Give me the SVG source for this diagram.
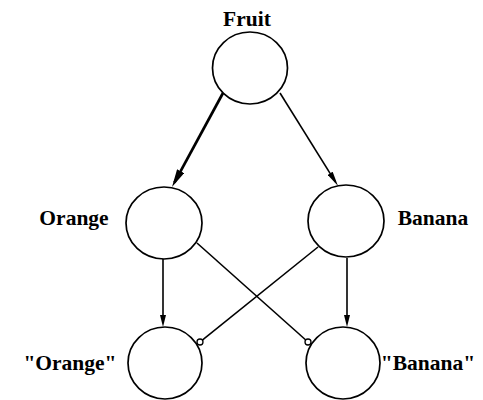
<svg xmlns="http://www.w3.org/2000/svg" width="483" height="400" viewBox="0 0 483 400">
<style>
.node ellipse{fill:#fff;stroke:#000;stroke-width:1.7}
.lbl{font-family:"Liberation Serif","Times New Roman",serif;font-weight:bold;font-size:21.5px;fill:#000}
.edge{stroke:#000;stroke-width:1.6;fill:none}
.thick{stroke-width:2.7}
.dot{fill:#fff;stroke:#000;stroke-width:1.3}
</style>
<defs>
<marker id="ah" viewBox="0 0 12 6" refX="7" refY="3" markerWidth="12" markerHeight="6" markerUnits="userSpaceOnUse" orient="auto">
<path d="M0,0 L12,3 L0,6 Z" fill="#000"/>
</marker>
<marker id="ahl" viewBox="0 0 15 6" refX="10" refY="3" markerWidth="15" markerHeight="6" markerUnits="userSpaceOnUse" orient="auto">
<path d="M0,0 L15,3 L0,6 Z" fill="#000"/>
</marker>
<marker id="ahb" viewBox="0 0 18 8" refX="13" refY="4" markerWidth="18" markerHeight="8" markerUnits="userSpaceOnUse" orient="auto">
<path d="M0,0 L18,4 L0,8 Z" fill="#000"/>
</marker>
</defs>
<rect width="483" height="400" fill="#fff"/>
<g id="connectors">
<line class="edge thick" x1="223" y1="93" x2="174.4" y2="182.6" marker-end="url(#ahb)"/>
<line class="edge" x1="280" y1="93" x2="335.4" y2="181.8" marker-end="url(#ahl)"/>
<line class="edge" x1="163" y1="259" x2="163" y2="322" marker-end="url(#ah)"/>
<line class="edge" x1="347" y1="258" x2="347" y2="322" marker-end="url(#ah)"/>
<line class="edge" x1="197" y1="243" x2="305.8" y2="340"/>
<line class="edge" x1="318" y1="247" x2="202.3" y2="340.1"/>
<circle class="dot" cx="308" cy="342" r="3"/>
<circle class="dot" cx="200" cy="342" r="3"/>
</g>
<g id="fruit" class="node">
<ellipse cx="250" cy="68" rx="37.5" ry="36"/>
<text class="lbl" x="247" y="26" text-anchor="middle">Fruit</text>
</g>
<g id="orange" class="node">
<ellipse cx="164" cy="223" rx="38" ry="36"/>
<text class="lbl" x="74" y="225" text-anchor="middle">Orange</text>
</g>
<g id="banana" class="node">
<ellipse cx="346" cy="221" rx="38" ry="36"/>
<text class="lbl" x="433" y="225" text-anchor="middle">Banana</text>
</g>
<g id="orange-str" class="node">
<ellipse cx="165" cy="363" rx="37" ry="36"/>
<text class="lbl" x="70" y="370" text-anchor="middle">"Orange"</text>
</g>
<g id="banana-str" class="node">
<ellipse cx="343" cy="363" rx="37" ry="36"/>
<text class="lbl" x="428" y="370" text-anchor="middle">"Banana"</text>
</g>
</svg>
